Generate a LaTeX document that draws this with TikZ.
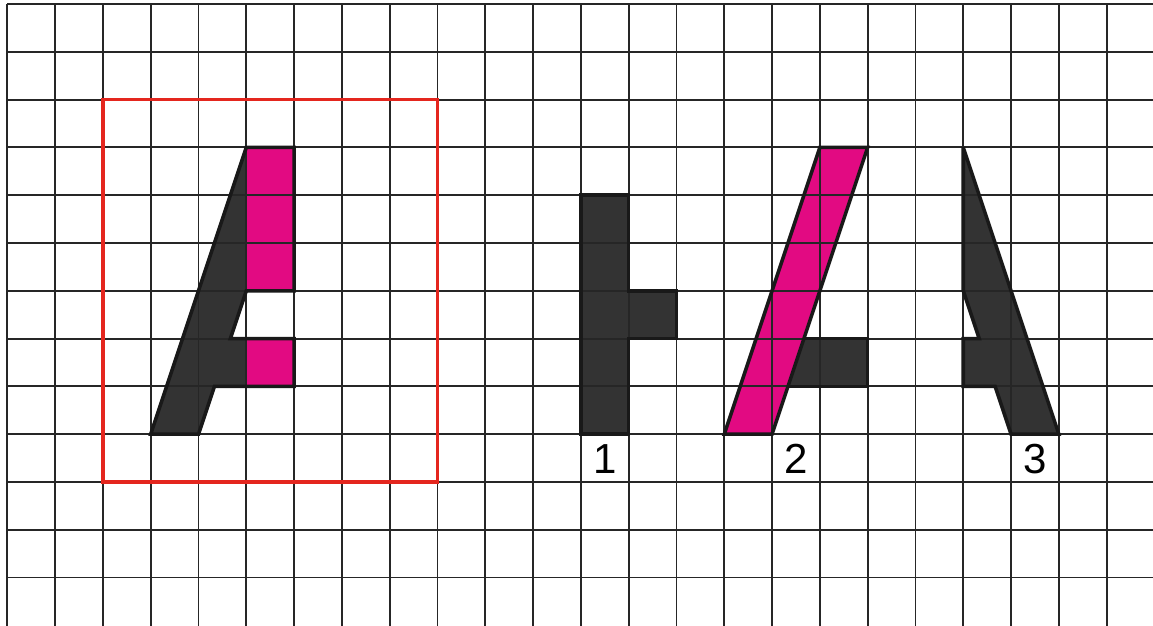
\documentclass[tikz,border=0pt]{standalone}
\usepackage{fontspec}
\newfontfamily\digitfont{Liberation Sans}
\definecolor{darkfill}{RGB}{51,51,51}
\definecolor{pinkfill}{RGB}{226,10,130}
\definecolor{framered}{RGB}{228,38,30}

\begin{document}
\begin{tikzpicture}[y=-1cm,
	gridline/.style={line width=1.1pt, black!85},
	outline/.style={line width=2.1pt, black!90, line join=miter, miter limit=3},
	digit/.style={font=\digitfont\fontsize{25}{30}\selectfont, inner sep=0pt}]
	\useasboundingbox (-0.153,-0.084) rectangle (23.97,13.0);
	% fills first, grid shows through
	\fill[darkfill] (5,3) -- (3,9) -- (4,9) -- (4.3333,8) -- (5,8) -- (5,7) -- (4.6667,7) -- (5,6) -- cycle;
	\fill[pinkfill] (5,3) rectangle (6,6);
	\fill[pinkfill] (5,7) rectangle (6,8);
	\fill[darkfill] (12,4) -- (13,4) -- (13,6) -- (14,6) -- (14,7) -- (13,7) -- (13,9) -- (12,9) -- cycle;
	\fill[pinkfill] (15,9) -- (16,9) -- (18,3) -- (17,3) -- cycle;
	\fill[darkfill] (16.6667,7) -- (18,7) -- (18,8) -- (16.3333,8) -- cycle;
	\fill[darkfill] (20,3) -- (22,9) -- (21,9) -- (20.6667,8) -- (20,8) -- (20,7) -- (20.3333,7) -- (20,6) -- cycle;
	% grid
	\foreach \i in {0,...,23}
		\draw[gridline] (\i,0) -- (\i,13.2);
	\foreach \j in {0,...,12}
		\draw[gridline] (0,\j) -- (24.2,\j);
	% outlines
	\draw[outline] (5,3) -- (6,3) -- (6,6) -- (5,6) -- (4.6667,7) -- (6,7) -- (6,8) -- (4.3333,8) -- (4,9) -- (3,9) -- cycle;
	\draw[outline] (12,4) -- (13,4) -- (13,6) -- (14,6) -- (14,7) -- (13,7) -- (13,9) -- (12,9) -- cycle;
	\draw[outline] (15,9) -- (16,9) -- (18,3) -- (17,3) -- cycle;
	\draw[outline] (16.6667,7) -- (18,7) -- (18,8) -- (16.3333,8);
	\draw[outline] (20,3) -- (22,9) -- (21,9) -- (20.6667,8) -- (20,8) -- (20,7) -- (20.3333,7) -- (20,6) -- cycle;
	\draw[framered, line width=2pt] (2,2) rectangle (9,10);
	% labels
	\node[digit] (one) at (12.5,9.52) {1};
	\node[digit] (two) at (16.5,9.52) {2};
	\node[digit] (three) at (21.5,9.52) {3};
\end{tikzpicture}
\end{document}
